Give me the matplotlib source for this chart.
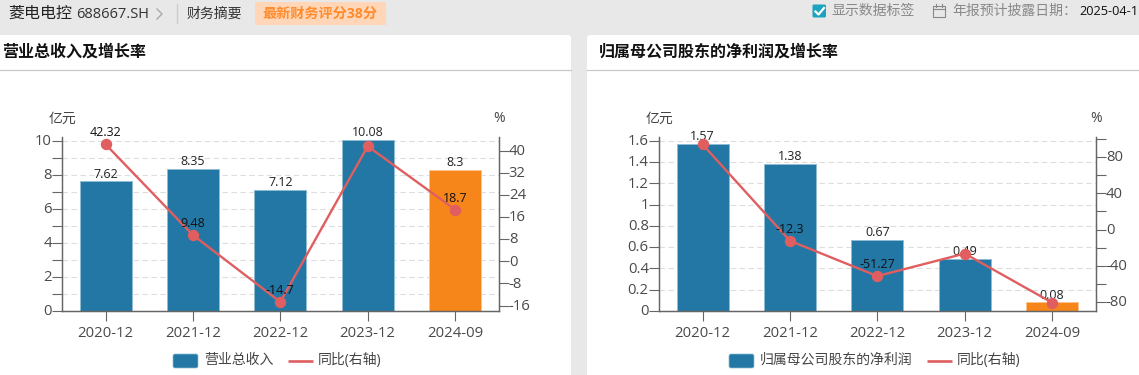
import matplotlib
matplotlib.use("Agg")
import matplotlib.pyplot as plt
from matplotlib.patches import FancyBboxPatch, Rectangle
from matplotlib.transforms import ScaledTranslation

plt.rcParams['font.family'] = ['Open Sans', 'Noto Sans CJK SC', 'DejaVu Sans']

W, H = 1139, 375

categories = ["2020-12", "2021-12", "2022-12", "2023-12", "2024-09"]

# 营业总收入
revenue = [7.62, 8.35, 7.12, 10.08, 8.3]
revenue_yoy = [42.32, 9.48, -14.7, 41.6, 18.7]
revenue_yoy_labels = ["42.32", "9.48", "-14.7", "", "18.7"]

# 净利润
profit = [1.57, 1.38, 0.67, 0.49, 0.08]
profit_yoy = [94.0, -12.3, -51.27, -26.4, -80.5]
profit_yoy_labels = ["", "-12.3", "-51.27", "", ""]

rev_left_ticks = [0, 1, 2, 3, 4, 5, 6, 7, 8, 9, 10]
rev_left_labels = ["0", "", "2", "", "4", "", "6", "", "8", "", "10"]
rev_right_ticks = [-16, -8, 0, 8, 16, 24, 32, 40]
rev_right_labels = ["-16", "-8", "0", "8", "16", "24", "32", "40"]

prof_left_ticks = [0, 0.2, 0.4, 0.6, 0.8, 1, 1.2, 1.4, 1.6]
prof_left_labels = ["0", "0.2", "0.4", "0.6", "0.8", "1", "1.2", "1.4", "1.6"]
prof_right_ticks = [-80, -60, -40, -20, 0, 20, 40, 60, 80, 100]
prof_right_labels = ["-80", "", "-40", "", "0", "", "40", "", "80", ""]

BLUE = "#2277a4"
ORANGE = "#f7861a"
RED = "#e05e60"
AXIS = "#666666"
TEXT = "#4a4a4a"
BAR_W = 52 / 87.4


def draw_chart(x0, x1, bars, yoy, yoy_labels, left, right):
    """画一个柱线组合图, left/right = (ylim, ticks, labels)"""
    top, bottom = 136.7, 310.8
    ax = fig.add_axes([x0 / W, 1 - bottom / H, (x1 - x0) / W, (bottom - top) / H])
    ax.patch.set_alpha(0)
    xs = list(range(len(categories)))

    ax.set_xlim(-0.5, 4.5)
    ax.set_ylim(*left[0])
    ax.set_yticks(left[1])
    ax.set_yticklabels(left[2])
    ax.set_xticks(xs)
    ax.set_xticklabels(categories)
    for t in left[1][1:]:
        ax.axhline(t, color="#dddddd", lw=0.8, ls=(0, (5, 3)), zorder=1)

    colors = [BLUE] * 4 + [ORANGE]
    edges = ["#8fbdd3"] * 4 + ["#fbc48d"]
    ax.bar(xs, bars, BAR_W, color=colors, edgecolor=edges, lw=0.7, zorder=2)
    for x, v in zip(xs, bars):
        ax.annotate(str(v), (x, v), xytext=(0, 0.5), textcoords="offset points",
                    ha="center", va="bottom", fontsize=9, color="#222222", zorder=3)

    ax2 = ax.twinx()
    ax2.set_ylim(*right[0])
    ax2.set_yticks(right[1])
    ax2.set_yticklabels(right[2])
    ax2.plot(xs, yoy, color=RED, lw=1.7, marker="o", ms=7.2, clip_on=False, zorder=5)
    for x, v, s in zip(xs, yoy, yoy_labels):
        if s:
            ax2.annotate(s, (x, v), xytext=(0, 3.5), textcoords="offset points",
                         ha="center", va="bottom", fontsize=9, color="#111111", zorder=6)

    shift = ScaledTranslation(0, 1.2 / 100, fig.dpi_scale_trans)
    for a in (ax, ax2):
        for side in a.spines:
            a.spines[side].set_color(AXIS)
            a.spines[side].set_linewidth(0.9)
        a.spines["top"].set_visible(False)
        a.tick_params(axis="both", length=7.2, width=0.8, color=AXIS,
                      labelcolor=TEXT, labelsize=10.7, pad=0)
        for lab in a.get_yticklabels():
            lab.set_transform(lab.get_transform() + shift)
    ax.tick_params(axis="x", pad=3.5)
    ax2.tick_params(axis="x", length=0)
    ax.set_axisbelow(True)
    return ax, ax2


def legend_row(px, tx, name, lx, ltx):
    bg.add_patch(FancyBboxPatch((px + 2, 356), 21, 10, boxstyle="round,pad=2",
                                fc=BLUE, ec="#8fbdd3", lw=0.5))
    bg.text(tx, 360.5, name, fontsize=10, color="#444444", va="center")
    bg.plot([lx, lx + 25], [361, 361], color=RED, lw=1.9, solid_capstyle="butt")
    bg.text(ltx, 360.5, "同比(右轴)", fontsize=10, color="#444444", va="center")


fig = plt.figure(figsize=(W / 100, H / 100), dpi=100, facecolor="#e8e8e8")

# 页面背景层, 用像素坐标
bg = fig.add_axes([0, 0, 1, 1])
bg.set_xlim(0, W)
bg.set_ylim(H, 0)
bg.axis("off")

for x, w in [(-10, 581), (587, 570)]:
    bg.add_patch(FancyBboxPatch((x + 3, 38), w - 6, 350, boxstyle="round,pad=3",
                                fc="white", ec="none"))
bg.plot([0, 571], [70.3, 70.3], color="#c8c8c8", lw=0.9)
bg.plot([587, W], [70.3, 70.3], color="#c8c8c8", lw=0.9)

bg.text(2, 52.5, "营业总收入及增长率", fontsize=11.5, fontweight="bold", color="#111111", va="center")
bg.text(599, 52.5, "归属母公司股东的净利润及增长率", fontsize=11.5, fontweight="bold", color="#111111", va="center")

# 顶部信息条
bg.text(8, 14, "菱电电控", fontsize=11.5, color="#222222", va="center")
bg.text(76, 14, "688667.SH", fontsize=10.5, color="#333333", va="center")
bg.plot([157, 162, 157], [9, 14, 19], color="#aaaaaa", lw=1)
bg.plot([176.5, 176.5], [4, 23], color="#cccccc", lw=1)
bg.text(187, 14, "财务摘要", fontsize=10, color="#333333", va="center")
bg.add_patch(Rectangle((255, 2), 131, 23, fc="#ffd7b8", ec="none"))
bg.text(262, 14, "最新财务评分38分", fontsize=10.2, fontweight="bold", color="#ff8c2e", va="center")

bg.add_patch(FancyBboxPatch((814, 6), 10.5, 10, boxstyle="round,pad=1.5", fc="#1ba3c0", ec="none"))
bg.plot([815.5, 818.5, 824], [11.5, 14.5, 8], color="white", lw=1.6)
bg.text(831, 11.5, "显示数据标签", fontsize=10, color="#888888", va="center")
bg.add_patch(Rectangle((932.5, 6), 12, 11, fc="none", ec="#888888", lw=0.8))
bg.plot([932.5, 944.5], [9, 9], color="#888888", lw=0.8)
bg.plot([935.5, 935.5], [3.5, 7], color="#888888", lw=0.8)
bg.plot([941.5, 941.5], [3.5, 7], color="#888888", lw=0.8)
bg.text(952, 11.5, "年报预计披露日期：", fontsize=10, color="#888888", va="center")
bg.text(1079, 11.5, "2025-04-1", fontsize=9.2, color="#111111", va="center")

# 单位
bg.text(62, 119, "亿元", fontsize=10, color="#444444", ha="center", va="center")
bg.text(499, 119, "%", fontsize=10, color="#444444", ha="center", va="center")
bg.text(659, 119, "亿元", fontsize=10, color="#444444", ha="center", va="center")
bg.text(1096, 119, "%", fontsize=10, color="#444444", ha="center", va="center")

legend_row(173, 204, "营业总收入", 288, 318)
legend_row(729, 760, "归属母公司股东的净利润", 927, 957)

draw_chart(61.8, 498.8, revenue, revenue_yoy, revenue_yoy_labels,
           ((0, 10.25), rev_left_ticks, rev_left_labels),
           ((-17.9, 45.05), rev_right_ticks, rev_right_labels))
draw_chart(658.8, 1095.8, profit, profit_yoy, profit_yoy_labels,
           ((0, 1.638), prof_left_ticks, prof_left_labels),
           ((-89.5, 102.4), prof_right_ticks, prof_right_labels))

fig.savefig("out.png", dpi=100, facecolor=fig.get_facecolor())
